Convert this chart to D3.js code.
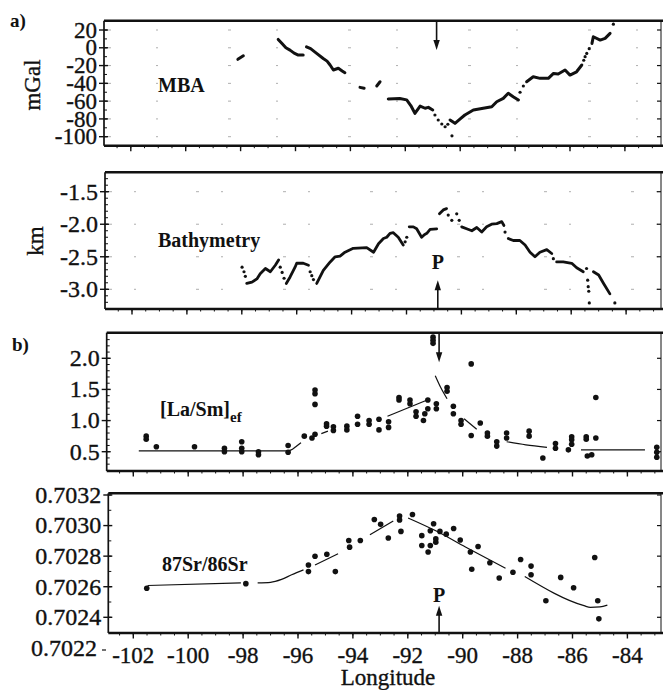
<!DOCTYPE html>
<html><head><meta charset="utf-8">
<script src="https://cdn.jsdelivr.net/npm/d3@7"></script>
<style>
body{margin:0;background:#fff}
svg{display:block}
text{font-family:"Liberation Serif","Times New Roman",Times,serif;fill:#111}
.heavy{stroke:#111;stroke-width:0.35px}
</style>
</head><body>
<svg id="c" width="663" height="690"></svg>
<script>
// ---------- tick values / labels ----------
const lonTicks = [-102,-100,-98,-96,-94,-92,-90,-88,-86,-84];
const lonTickLabels = ["-102","-100","-98","-96","-94","-92","-90","-88","-86","-84"];
const mbaTicks = [20,0,-20,-40,-60,-80,-100];
const mbaTickLabels = ["20","0","-20","-40","-60","-80","-100"];
const kmTicks = [-1.5,-2.0,-2.5,-3.0];
const kmTickLabels = ["-1.5","-2.0","-2.5","-3.0"];
const laTicks = [2.0,1.5,1.0,0.5];
const laTickLabels = ["2.0","1.5","1.0","0.5"];
const srTicks = [0.7032,0.7030,0.7028,0.7026,0.7024];
const srTickLabels = ["0.7032","0.7030","0.7028","0.7026","0.7024"];
const srExtraLabel = "0.7022";
const hotspotLon = -90.86;

// ---------- MBA (mGal) trackline ----------
const mbaLines = [
 [[-98.1,-13],[-97.9,-9]],
 [[-96.63,9.4],[-96.5,5],[-96.35,0],[-96.2,-2.6],[-96.05,-6],[-95.9,-8.2],[-95.72,-8.2]],
 [[-95.6,1.1],[-95.45,-1],[-95.23,-6.3],[-94.99,-12],[-94.85,-15],[-94.74,-19.4],[-94.62,-25],[-94.44,-23],[-94.3,-26],[-94.2,-28]],
 [[-93.65,-44.5],[-93.5,-45.5]],
 [[-93.04,-43],[-92.92,-38.2]],
 [[-92.62,-57.6],[-92.2,-57],[-91.95,-58.6],[-91.8,-65],[-91.65,-73.7],[-91.46,-65.5],[-91.28,-68],[-91.16,-67],[-91.0,-70]],
 [[-90.37,-81.2],[-90.19,-85],[-90.0,-80],[-89.83,-75.6],[-89.52,-70],[-89.16,-68],[-88.85,-66.3],[-88.67,-60.7],[-88.43,-56.9],[-88.25,-51.2],[-88.07,-55],[-87.88,-58.7]],
 [[-87.58,-38.2],[-87.34,-32.6],[-87.09,-34.4],[-86.79,-34.4],[-86.6,-28.8],[-86.43,-29.5],[-86.18,-25],[-86.0,-30.7],[-85.76,-27],[-85.57,-19.4]],
 [[-85.2,4.9],[-85.15,12.4],[-84.9,8.7],[-84.72,10.6],[-84.54,16.2]]
];
const mbaDots = [[-90.92,-75.6],[-90.8,-81.2],[-90.67,-85.7],[-90.55,-88.8],[-90.45,-86],
 [-87.82,-50],[-87.7,-43],[-85.5,-14],[-85.45,-10],[-85.39,-6.3],[-85.3,-1],[-84.42,26.6],[-90.3,-99]];

// ---------- Bathymetry (km) trackline ----------
const bathyLines = [
 [[-97.82,-2.91],[-97.63,-2.89],[-97.45,-2.84],[-97.33,-2.76],[-97.14,-2.68],[-96.96,-2.73],[-96.78,-2.63],[-96.66,-2.55]],
 [[-96.38,-2.91],[-96.24,-2.81],[-96.06,-2.66],[-96.0,-2.6],[-95.76,-2.6],[-95.57,-2.63]],
 [[-95.27,-2.91],[-95.15,-2.81],[-95.03,-2.71],[-94.78,-2.58],[-94.6,-2.5],[-94.42,-2.49],[-94.24,-2.43],[-93.94,-2.37],[-93.45,-2.36],[-93.2,-2.43],[-93.02,-2.3],[-92.84,-2.22],[-92.72,-2.2],[-92.6,-2.14],[-92.48,-2.13],[-92.3,-2.2],[-92.12,-2.32]],
 [[-91.9,-2.04],[-91.75,-2.04],[-91.63,-2.07],[-91.45,-2.2],[-91.35,-2.16],[-91.26,-2.14],[-91.14,-2.08],[-90.9,-2.07]],
 [[-90.8,-1.84],[-90.66,-1.78],[-90.54,-1.76]],
 [[-89.99,-2.04],[-89.81,-2.07],[-89.62,-2.1],[-89.44,-2.05],[-89.26,-2.12],[-89.08,-2.04],[-88.9,-2.0],[-88.71,-1.99],[-88.53,-1.96],[-88.45,-2.02]],
 [[-88.29,-2.22],[-88.11,-2.25],[-87.87,-2.25],[-87.68,-2.32],[-87.5,-2.43],[-87.32,-2.5],[-87.14,-2.43],[-86.89,-2.39],[-86.71,-2.45]],
 [[-86.53,-2.58],[-86.29,-2.58],[-85.98,-2.6],[-85.8,-2.67],[-85.56,-2.73]],
 [[-85.19,-2.73],[-85.0,-2.78],[-84.82,-2.91],[-84.59,-3.07]]
];
const bathyDots = [[-97.99,-2.66],[-97.92,-2.73],[-97.87,-2.8],[-96.6,-2.66],[-96.53,-2.74],[-96.46,-2.83],
 [-95.51,-2.73],[-95.45,-2.79],[-95.39,-2.85],[-92.05,-2.27],[-91.99,-2.2],[-90.48,-1.86],[-90.35,-1.94],
 [-90.17,-1.84],[-90.08,-1.94],[-88.41,-2.12],[-86.65,-2.53],[-85.44,-2.68],[-85.4,-2.86],[-85.38,-2.96],
 [-85.36,-3.03],[-85.34,-3.21],[-84.41,-3.21]];

// ---------- [La/Sm]ef samples ----------
const laSmPts = [[-101.53,0.75],[-101.53,0.70],[-101.16,0.58],[-99.77,0.58],[-98.68,0.555],[-98.68,0.50],
 [-98.05,0.66],[-98.05,0.555],[-98.05,0.50],[-97.44,0.50],[-97.44,0.45],[-96.36,0.60],[-96.36,0.49],
 [-95.77,0.75],[-95.49,0.72],[-95.38,1.49],[-95.38,1.43],[-95.38,1.26],[-95.38,0.78],[-94.96,0.95],
 [-94.96,0.91],[-94.71,0.90],[-94.71,0.84],[-94.22,0.91],[-94.22,0.85],[-93.83,1.07],[-93.83,0.94],
 [-93.41,1.0],[-93.41,0.94],[-93.05,1.02],[-93.05,0.85],[-92.7,0.98],[-92.7,0.89],[-92.32,1.37],
 [-92.32,1.33],[-91.92,1.33],[-91.92,1.27],[-91.7,1.14],[-91.7,1.07],[-91.43,1.0],[-91.38,1.11],
 [-91.27,1.33],[-91.27,1.19],[-91.08,2.34],[-91.08,2.29],[-91.08,2.24],[-90.96,1.27],[-90.96,1.19],
 [-90.57,1.53],[-90.57,1.47],[-90.34,1.23],[-90.34,1.11],[-90.06,1.0],[-90.06,0.94],[-89.69,1.91],
 [-89.69,0.76],[-89.36,0.96],[-89.1,0.80],[-89.1,0.75],[-88.76,0.66],[-88.76,0.59],[-88.4,0.80],
 [-88.4,0.72],[-87.58,0.83],[-87.58,0.75],[-87.08,0.40],[-86.62,0.63],[-86.62,0.555],[-86.15,0.53],
 [-86.03,0.74],[-86.03,0.69],[-86.03,0.62],[-85.5,0.74],[-85.5,0.70],[-85.46,0.43],[-85.3,0.45],
 [-85.15,1.37],[-85.15,0.72],[-82.93,0.57],[-82.93,0.49],[-82.93,0.41]];
const laSmModel = [
 [[-101.8,0.513],[-96.36,0.513]],
 [[-96.36,0.513],[-96.2,0.54],[-96.08,0.58],[-95.89,0.645]],
 [[-95.15,0.79],[-94.91,0.83]],
 [[-92.74,1.07],[-91.27,1.335]],
 [[-91.0,1.72],[-90.8,1.53],[-90.57,1.35]],
 [[-89.95,1.03],[-89.49,0.86]],
 [[-88.4,0.66],[-87.7,0.61],[-86.93,0.57]],
 [[-85.69,0.53],[-83.36,0.53]]
];

// ---------- 87Sr/86Sr samples ----------
const srPts = [[-101.51,0.70259],[-97.9,0.70262],[-95.62,0.702742],[-95.62,0.702699],[-95.38,0.702799],
 [-94.95,0.702812],[-94.64,0.702699],[-94.15,0.702902],[-94.12,0.702859],[-93.73,0.702902],[-93.22,0.70304],
 [-92.99,0.703008],[-92.71,0.702919],[-92.3,0.703062],[-92.3,0.703036],[-92.25,0.702962],[-91.83,0.703072],
 [-91.49,0.702934],[-91.49,0.70287],[-91.26,0.702827],[-91.18,0.702966],[-91.18,0.70287],[-91.06,0.703012],
 [-90.98,0.702913],[-90.98,0.702891],[-90.83,0.702962],[-90.6,0.702944],[-90.33,0.702981],[-90.09,0.702906],
 [-89.72,0.702827],[-89.67,0.702714],[-89.44,0.702863],[-89.01,0.702757],[-88.67,0.702657],[-88.17,0.702695],
 [-87.89,0.702778],[-87.51,0.702735],[-87.51,0.702678],[-86.97,0.702508],[-86.43,0.702661],[-85.96,0.702593],
 [-85.19,0.702791],[-85.08,0.702508],[-85.04,0.70239]];
const srModel = [
 [[-101.48,0.702608],[-98.08,0.702625]],
 [[-97.47,0.702625],[-97.0,0.702629],[-96.6,0.702648],[-96.23,0.702678],[-95.8,0.70271]],
 [[-95.38,0.702742],[-94.54,0.702816]],
 [[-93.38,0.70294],[-92.53,0.70303]],
 [[-91.99,0.70305],[-90.98,0.702966],[-89.9,0.70286],[-88.44,0.702721]],
 [[-87.74,0.702667],[-85.58,0.702476],[-85.35,0.702465],[-85.0,0.702468],[-84.73,0.70248]]
];

// ---------- layout ----------
const svg = d3.select('#c');
const W = 663, RIGHT = 661;
const xBase = d3.scaleLinear().domain([-102,-84]).range([133.3,627.4]);

const panels = [
 {top:20.7,bottom:145.7,left:104,dx:-2.5,y:d3.scaleLinear().domain([-100,20]).range([136.7,30]),
  ticks:mbaTicks,labels:mbaTickLabels,minor:10,grid:true,fs:23},
 {top:172.3,bottom:309,left:105,dx:-1.3,y:d3.scaleLinear().domain([-3.0,-1.5]).range([289.3,191.7]),
  ticks:kmTicks,labels:kmTickLabels,minor:0.1,grid:true,fs:24},
 {top:332.7,bottom:471,left:106.7,dx:0,y:d3.scaleLinear().domain([0.5,2.0]).range([451.7,358.3]),
  ticks:laTicks,labels:laTickLabels,minor:0.1,grid:false,fs:24},
 {top:493.3,bottom:633,left:108.3,dx:0,y:d3.scaleLinear().domain([0.7024,0.7032]).range([617.3,495]),
  ticks:srTicks,labels:srTickLabels,minor:0.0001,grid:false,fs:24}
];
panels.forEach(p=>{ p.x = d=>xBase(d)+p.dx; });

panels.forEach((p,i)=>{
  const g = svg.append('g');
  if(p.grid){
    g.selectAll('line.grid').data(p.ticks).join('line')
      .attr('x1',p.left+4).attr('x2',RIGHT-3)
      .attr('y1',d=>p.y(d)).attr('y2',d=>p.y(d))
      .attr('stroke','#999').attr('stroke-width',0.8)
      .attr('stroke-dasharray',i===0?'3,45,2,70':'3,22,2,60');
  }
  const lo = p.y.invert(p.bottom), hi = p.y.invert(p.top);
  const minors = d3.range(Math.ceil(lo/p.minor)*p.minor, hi, p.minor);
  g.selectAll('line.ymin').data(minors).join('line')
    .attr('x1',p.left).attr('x2',p.left+3)
    .attr('y1',d=>p.y(d)).attr('y2',d=>p.y(d))
    .attr('stroke','#111').attr('stroke-width',1);
  g.selectAll('line.ymaj').data(p.ticks).join('line')
    .attr('x1',p.left-5).attr('x2',p.left+4)
    .attr('y1',d=>p.y(d)).attr('y2',d=>p.y(d))
    .attr('stroke','#111').attr('stroke-width',1.4);
  g.selectAll('line.ymajr').data(p.ticks).join('line')
    .attr('x1',RIGHT-4).attr('x2',RIGHT)
    .attr('y1',d=>p.y(d)).attr('y2',d=>p.y(d))
    .attr('stroke','#111').attr('stroke-width',1.2);
  g.selectAll('text.yl').data(p.ticks).join('text')
    .attr('class','heavy')
    .attr('x',p.left-7).attr('y',d=>p.y(d)).attr('dy','0.33em')
    .attr('text-anchor','end').attr('font-size',p.fs)
    .text((d,j)=>p.labels[j]);
  const xMin = d3.range(-102.5,-82.9,0.5);
  g.selectAll('line.xmin').data(xMin).join('line')
    .attr('x1',d=>p.x(d)).attr('x2',d=>p.x(d))
    .attr('y1',p.bottom).attr('y2',p.bottom+2.5)
    .attr('stroke','#111').attr('stroke-width',1);
  g.selectAll('line.xmaj').data(lonTicks).join('line')
    .attr('x1',d=>p.x(d)).attr('x2',d=>p.x(d))
    .attr('y1',p.bottom).attr('y2',p.bottom+5.5)
    .attr('stroke','#111').attr('stroke-width',1.4);
  g.append('line').attr('x1',p.left).attr('x2',W).attr('y1',p.top).attr('y2',p.top)
    .attr('stroke','#111').attr('stroke-width',2.4);
  g.append('line').attr('x1',p.left).attr('x2',W).attr('y1',p.bottom).attr('y2',p.bottom)
    .attr('stroke','#111').attr('stroke-width',2.4);
  g.append('line').attr('x1',p.left).attr('x2',p.left).attr('y1',p.top).attr('y2',p.bottom)
    .attr('stroke','#111').attr('stroke-width',1.7);
  g.append('line').attr('x1',RIGHT).attr('x2',RIGHT).attr('y1',p.top).attr('y2',p.bottom)
    .attr('stroke','#111').attr('stroke-width',1);
});

const pB = panels[3];
svg.selectAll('text.xl').data(lonTicks).join('text')
  .attr('class','heavy')
  .attr('x',d=>pB.x(d)).attr('y',663).attr('text-anchor','middle').attr('font-size',23)
  .text((d,j)=>lonTickLabels[j]);
svg.append('text').attr('class','heavy').attr('x',388).attr('y',685).attr('text-anchor','middle').attr('font-size',23).text('Longitude');
svg.append('text').attr('class','heavy').attr('x',97).attr('y',656).attr('text-anchor','end').attr('font-size',24).text(srExtraLabel);
svg.append('line').attr('x1',102).attr('x2',106).attr('y1',650).attr('y2',650).attr('stroke','#111').attr('stroke-width',1.2);

svg.append('text').attr('class','heavy').attr('transform','translate(40,85) rotate(-90)').attr('text-anchor','middle').attr('font-size',23).text('mGal');
svg.append('text').attr('class','heavy').attr('transform','translate(43,241) rotate(-90)').attr('text-anchor','middle').attr('font-size',23).text('km');
svg.append('text').attr('x',10).attr('y',27).attr('font-size',19).attr('font-weight','bold').text('a)');
svg.append('text').attr('x',12).attr('y',351).attr('font-size',19).attr('font-weight','bold').text('b)');

function drawTrack(p, lines, dots, w){
  const ln = d3.line().x(d=>p.x(d[0])).y(d=>p.y(d[1])).curve(d3.curveLinear);
  svg.append('g').selectAll('path').data(lines).join('path')
    .attr('d',ln).attr('fill','none').attr('stroke','#111')
    .attr('stroke-width',w).attr('stroke-linecap','round').attr('stroke-linejoin','round');
  svg.append('g').selectAll('circle').data(dots).join('circle')
    .attr('cx',d=>p.x(d[0])).attr('cy',d=>p.y(d[1])).attr('r',1.6).attr('fill','#111');
}
drawTrack(panels[0], mbaLines, mbaDots, 3);
drawTrack(panels[1], bathyLines, bathyDots, 2.8);

function drawSamples(p, pts, model){
  const ln = d3.line().x(d=>p.x(d[0])).y(d=>p.y(d[1])).curve(d3.curveMonotoneX);
  svg.append('g').selectAll('path').data(model).join('path')
    .attr('d',ln).attr('fill','none').attr('stroke','#111').attr('stroke-width',1.2);
  svg.append('g').selectAll('circle').data(pts).join('circle')
    .attr('cx',d=>p.x(d[0])).attr('cy',d=>p.y(d[1])).attr('r',2.8).attr('fill','#111');
}
drawSamples(panels[2], laSmPts, laSmModel);
drawSamples(panels[3], srPts, srModel);

const bold = (x,y,t)=>svg.append('text').attr('x',x).attr('y',y).attr('font-size',20).attr('font-weight','bold').text(t);
bold(158,92,'MBA');
bold(158,247,'Bathymetry');
const la = bold(160,416,'[La/Sm]');
la.append('tspan').attr('font-size',15).attr('dy',6).text('ef');
bold(162,571,'87Sr/86Sr');

function arrow(x, y0, y1){
  const dir = y1>y0?1:-1;
  svg.append('line').attr('x1',x).attr('x2',x).attr('y1',y0).attr('y2',y1-dir*8)
    .attr('stroke','#111').attr('stroke-width',1.6);
  svg.append('path').attr('d',`M${x-3.2},${y1-dir*10}L${x+3.2},${y1-dir*10}L${x},${y1}Z`).attr('fill','#111');
}
arrow(panels[0].x(hotspotLon), panels[0].top, panels[0].y(-2.6));
arrow(panels[1].x(hotspotLon), panels[1].bottom, panels[1].y(-2.86));
arrow(panels[2].x(hotspotLon), panels[2].top, panels[2].y(1.935));
arrow(panels[3].x(hotspotLon), panels[3].bottom, panels[3].y(0.702476));
svg.append('text').attr('x',panels[1].x(hotspotLon)).attr('y',269).attr('text-anchor','middle')
  .attr('font-size',20).attr('font-weight','bold').text('P');
svg.append('text').attr('x',panels[3].x(hotspotLon)).attr('y',602).attr('text-anchor','middle')
  .attr('font-size',20).attr('font-weight','bold').text('P');
</script>
</body></html>
